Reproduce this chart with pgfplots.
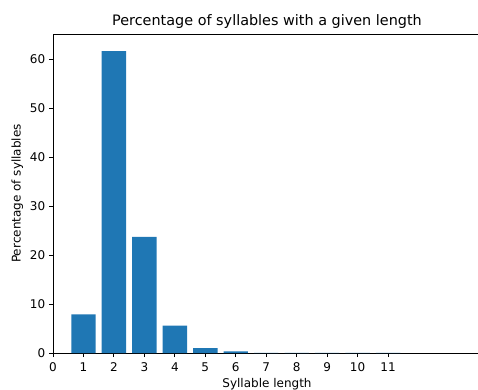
\documentclass[border=0pt]{standalone}
\usepackage{pgfplots}
\pgfplotsset{compat=1.18}
\usepackage{fontspec}
\setmainfont{DejaVu Sans}
\definecolor{mplblue}{HTML}{1F77B4}
\begin{document}
\begin{tikzpicture}
\path[use as bounding box] (-53pt,-36pt) rectangle (425pt,353pt);
\begin{axis}[
  at={(0pt,0pt)}, anchor=south west,
  scale only axis, width=428pt, height=319pt,
  xmin=0, xmax=14.05, ymin=0, ymax=65.1,
  xtick={0,1,...,11}, ytick={0,10,...,60},
  tick align=outside, tick pos=left,
  major tick length=4.2pt,
  every tick/.style={black, line width=0.9pt},
  axis line style={line width=0.9pt, black},
  tick label style={font=\fontsize{12}{14}\selectfont},
  /pgf/number format/assume math mode=true,
  title={Percentage of syllables with a given length},
  title style={font=\fontsize{14.4}{17}\selectfont, yshift=-4pt},
  xlabel={Syllable length}, ylabel={Percentage of syllables},
  label style={font=\fontsize{12}{14}\selectfont},
  xlabel style={yshift=0pt},
  ylabel style={yshift=0pt},
  xticklabel style={yshift=-2pt},
]
\addplot[ybar, bar width=24.4pt, fill=mplblue, draw=none] coordinates {
 (1,7.9) (2,61.6) (3,23.7) (4,5.6) (5,1.0) (6,0.35) (7,0.05) (8,0.02) (9,0.01) (10,0.005) (11,0.002)
};
\end{axis}
\end{tikzpicture}
\end{document}
